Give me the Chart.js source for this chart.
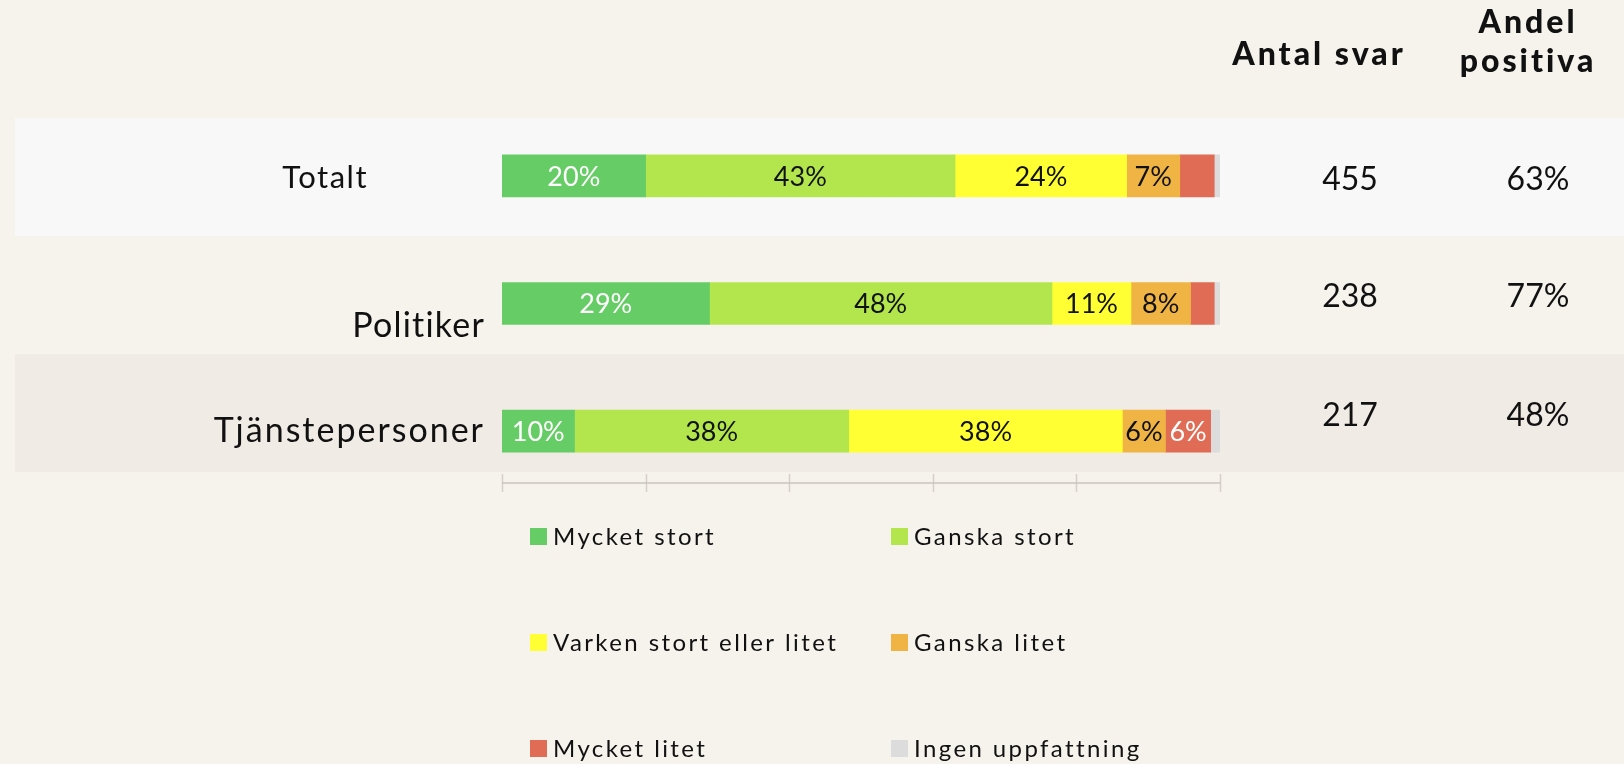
<!DOCTYPE html>
<html>
<head>
<meta charset="utf-8">
<script src="https://cdn.jsdelivr.net/npm/chart.js@4.4.1/dist/chart.umd.min.js"></script>
<style>
  html, body { margin: 0; padding: 0; }
  body { width: 1624px; height: 764px; background: #f6f2ec; position: relative; overflow: hidden; font-family: Lato, "Noto Sans", sans-serif; }
  .band { position: absolute; left: 15px; right: 0; height: 118px; }
  #band1 { top: 118px; background: #f8f8f8; }
  #band3 { top: 354px; background: #f0ebe5; }
  #c { position: absolute; left: 0; top: 0; }
</style>
</head>
<body>
<div class="band" id="band1"></div>
<div class="band" id="band3"></div>
<canvas id="c" width="1624" height="764"></canvas>
<script>
// ---- data ----
const categories = ['Totalt', 'Politiker', 'Tjänstepersoner'];
const seriesNames = ['Mycket stort', 'Ganska stort', 'Varken stort eller litet', 'Ganska litet', 'Mycket litet', 'Ingen uppfattning'];
const mycketStort = [20.0, 28.9, 10.1];
const ganskaStort = [43.1, 47.7, 38.2];
const varken      = [23.9, 11.0, 38.1];
const ganskaLitet = [7.4, 8.3, 6.0];
const mycketLitet = [4.8, 3.3, 6.3];
const ingen       = [0.8, 0.8, 1.3];
const antalSvar = [455, 238, 217];
const andelPositiva = [63, 77, 48];
const xTicks = [0, 20, 40, 60, 80, 100];

// ---- styles ----
const colors = ['#66cc66', '#b3e64d', '#ffff33', '#f0b445', '#e06c55', '#dcdcdc'];
const labelColors = ['#ffffff', '#111111', '#111111', '#111111', '#ffffff', '#111111'];
const seriesValues = [mycketStort, ganskaStort, varken, ganskaLitet, mycketLitet, ingen];
const FONT = 'Lato, "Noto Sans", sans-serif';
const TEXT = '#111111';

// category label styling (right edge, baseline offset from bar center, font size)
const catStyle = [
  { right: 368, dy: 12, size: 31, ls: '1.5px' },
  { right: 485, dy: 33, size: 34, ls: '1.2px' },
  { right: 485, dy: 11, size: 34, ls: '2px' }
];
// value rows baseline offsets from bar center
const valueDy = [14, 3.5, -5];

const overlay = {
  id: 'overlay',
  afterDatasetsDraw(chart) {
    const ctx = chart.ctx;
    const xs = chart.scales.x, ys = chart.scales.y;
    ctx.save();
    // segment labels
    ctx.textAlign = 'center';
    ctx.textBaseline = 'middle';
    ctx.font = '27px ' + FONT;
    chart.data.datasets.forEach((ds, di) => {
      const meta = chart.getDatasetMeta(di);
      meta.data.forEach((bar, i) => {
        const v = ds.data[i];
        if (v < 5.5) return;
        ctx.fillStyle = labelColors[di];
        ctx.fillText(Math.round(v) + '%', (bar.x + bar.base) / 2, bar.y + 1);
      });
    });

    // x axis with ticks crossing the line
    const ay = chart.chartArea.bottom - 12;
    ctx.strokeStyle = 'rgba(200,194,186,0.7)';
    ctx.lineWidth = 2;
    ctx.beginPath();
    ctx.moveTo(xs.getPixelForValue(0), ay);
    ctx.lineTo(xs.getPixelForValue(100), ay);
    ctx.stroke();
    ctx.lineWidth = 1.5;
    xTicks.forEach(t => {
      const px = Math.round(xs.getPixelForValue(t)) + 0.5;
      ctx.beginPath();
      ctx.moveTo(px, ay - 9);
      ctx.lineTo(px, ay + 9);
      ctx.stroke();
    });

    // category labels
    ctx.fillStyle = TEXT;
    ctx.textBaseline = 'alphabetic';
    ctx.textAlign = 'right';
    categories.forEach((c, i) => {
      const s = catStyle[i];
      ctx.font = s.size + 'px ' + FONT;
      ctx.letterSpacing = s.ls;
      ctx.fillText(c, s.right, ys.getPixelForValue(i) + s.dy);
    });

    // value columns
    ctx.letterSpacing = '0px';
    ctx.textAlign = 'center';
    ctx.font = '32px ' + FONT;
    categories.forEach((c, i) => {
      const y = ys.getPixelForValue(i) + valueDy[i];
      ctx.fillText(String(antalSvar[i]), 1350, y);
      ctx.fillText(andelPositiva[i] + '%', 1538, y);
    });

    // headers
    ctx.font = '900 32px ' + FONT;
    ctx.letterSpacing = '3px';
    ctx.fillText('Antal svar', 1319, 65);
    ctx.fillText('Andel', 1528, 33);
    ctx.fillText('positiva', 1528, 72);

    // legend: 2 columns grid
    ctx.letterSpacing = '2.4px';
    ctx.font = '24px ' + FONT;
    ctx.textAlign = 'left';
    ctx.textBaseline = 'middle';
    const colX = [530, 891];
    const rowY = [536, 642, 748];
    chart.data.datasets.forEach((ds, di) => {
      const x = colX[di % 2], y = rowY[Math.floor(di / 2)];
      ctx.fillStyle = ds.backgroundColor;
      ctx.fillRect(x, y - 8, 17, 17);
      ctx.fillStyle = TEXT;
      ctx.fillText(ds.label, x + 23, y + 1);
    });
    ctx.letterSpacing = '0px';
    ctx.restore();
  }
};

new Chart(document.getElementById('c'), {
  type: 'bar',
  data: {
    labels: categories,
    datasets: seriesNames.map((n, i) => ({
      label: n,
      data: seriesValues[i],
      backgroundColor: colors[i],
      borderWidth: 0,
      barThickness: 42
    }))
  },
  options: {
    indexAxis: 'y',
    responsive: false,
    devicePixelRatio: 1,
    animation: false,
    layout: { padding: { left: 502, right: 404, top: 112, bottom: 269 } },
    scales: {
      x: { stacked: true, min: 0, max: 100, display: false },
      y: { stacked: true, display: false }
    },
    plugins: { legend: { display: false }, tooltip: { enabled: false } }
  },
  plugins: [overlay]
});
</script>
</body>
</html>
